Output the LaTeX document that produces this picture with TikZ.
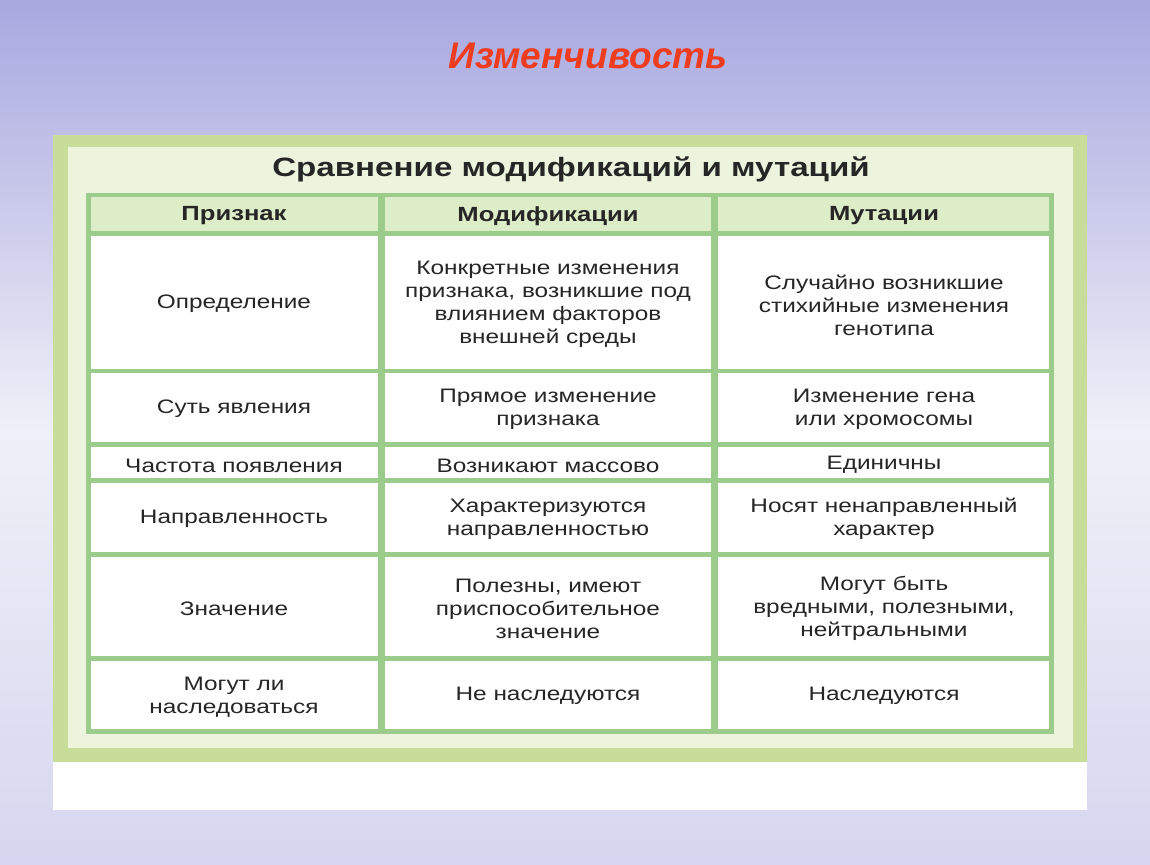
\documentclass[tikz,border=0pt]{standalone}
\usepackage{fontspec}
\setmainfont{Liberation Sans}
\newfontfamily\widefont[FakeStretch=1.25]{Liberation Sans}
\begin{document}
\begin{tikzpicture}[x=1pt,y=-1pt,
  cell/.style={fill=white,draw=none},
  txt/.style={align=center,yshift=-3pt,font=\widefont\fontsize{19.5}{23}\selectfont,text=black!85},
  hdr/.style={yshift=-2pt,font=\widefont\bfseries\fontsize{20.5}{24}\selectfont,text=black!85}]
\definecolor{bgtop}{RGB}{168,168,224}
\definecolor{bgmid}{RGB}{240,240,248}
\definecolor{bgbot}{RGB}{214,214,240}
\definecolor{frameg}{RGB}{200,221,154}
\definecolor{innerg}{RGB}{236,244,222}
\definecolor{lineg}{RGB}{156,204,140}
\definecolor{hdrg}{RGB}{220,237,200}
\definecolor{titred}{RGB}{238,60,30}
\useasboundingbox (0,0) rectangle (1150,864);
\shade[top color=bgtop,bottom color=bgmid] (0,0) rectangle (1150,432);
\shade[top color=bgmid,bottom color=bgbot] (0,432) rectangle (1150,864);
\node[font=\bfseries\itshape\fontsize{37}{42}\selectfont,text=titred] (title) at (588,56) {Изменчивость};
\fill[white] (53,135) rectangle (1087,810);
\fill[frameg] (53,135) rectangle (1087,762);
\fill[innerg] (68,147) rectangle (1073,748);
\node[font=\widefont\bfseries\fontsize{26.5}{30}\selectfont,text=black!85] (sub) at (571,169) {Сравнение модификаций и мутаций};
\fill[lineg] (86,193) rectangle (1054,734);
% header
\fill[hdrg] (91,197) rectangle (378,231);
\fill[hdrg] (385,197) rectangle (711,231);
\fill[hdrg] (718,197) rectangle (1049,231);
\node[hdr] (h1) at (234,214) {Признак};
\node[hdr] (h2) at (548,214) {Модификации};
\node[hdr] (h3) at (884,214) {Мутации};
% rows
\foreach \ya/\yb in {236/369,373/442,447/478,483/552,557/656,661/729}{
  \fill[white] (91,\ya) rectangle (378,\yb);
  \fill[white] (385,\ya) rectangle (711,\yb);
  \fill[white] (718,\ya) rectangle (1049,\yb);
}
\node[txt] (a1) at (234,301) {Определение};
\node[txt] (b1) at (548,301) {Конкретные изменения\\признака, возникшие под\\влиянием факторов\\внешней среды};
\node[txt] (c1) at (884,302) {Случайно возникшие\\стихийные изменения\\генотипа};
\node[txt] (a2) at (234,406) {Суть явления};
\node[txt] (b2) at (548,406) {Прямое изменение\\признака};
\node[txt] (c2) at (884,406) {Изменение гена\\или хромосомы};
\node[txt] (a3) at (234,463) {Частота появления};
\node[txt] (b3) at (548,463) {Возникают массово};
\node[txt] (c3) at (884,462) {Единичны};
\node[txt] (a4) at (234,516) {Направленность};
\node[txt] (b4) at (548,516) {Характеризуются\\направленностью};
\node[txt] (c4) at (884,516) {Носят ненаправленный\\характер};
\node[txt] (a5) at (234,606) {Значение};
\node[txt] (b5) at (548,606) {Полезны, имеют\\приспособительное\\значение};
\node[txt] (c5) at (884,605) {Могут быть\\вредными, полезными,\\нейтральными};
\node[txt] (a6) at (234,694) {Могут ли\\наследоваться};
\node[txt] (b6) at (548,693) {Не наследуются};
\node[txt] (c6) at (884,693) {Наследуются};
\end{tikzpicture}
\end{document}
